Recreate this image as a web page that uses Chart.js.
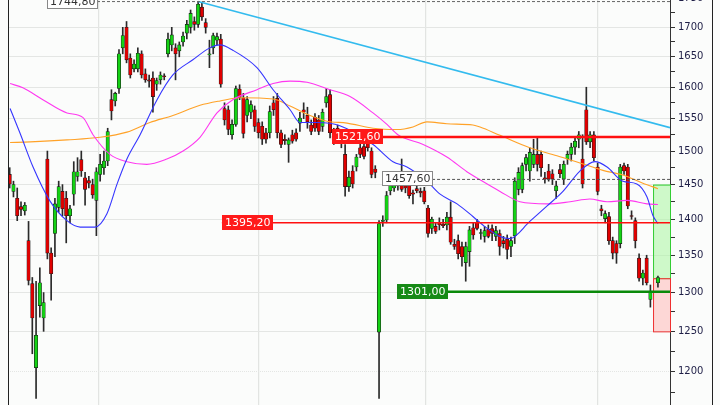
<!DOCTYPE html>
<html>
<head>
<meta charset="utf-8">
<script src="https://cdn.jsdelivr.net/npm/chart.js@4.4.1/dist/chart.umd.min.js"></script>
<style>
html, body { margin: 0; padding: 0; width: 720px; height: 405px; overflow: hidden; background: #fbfcfb; }
#wrap { position: absolute; left: 0; top: -10px; width: 720px; height: 415px; }
</style>
</head>
<body>
<div id="wrap"><canvas id="graph"></canvas></div>
<script>
// daily candles (null = empty session slot)
var opens = [
  1465,1440,1430,1418,1412,1370,1312,1205,1283,1267,
  1488,1353,1380,1417,1440,1430,1405,1436,1462,1487,
  1460,1456,1450,1427,1465,1475,1485,1580,1578,1598,
  1665,1700,1648,1630,1630,1655,1622,1612,1615,1605,
  1612,1618,1655,1670,1665,1660,1675,1690,1700,1710,
  1705,1735,1708,1653,1665,1678,1680,1566,1564,1525,
  1541,1597,1583,1555,1560,1564,1544,1538,1528,1528,
  1575,1582,1528,1518,1510,1525,1528,1543,1564,1555,
  1540,1552,1548,1538,1575,1588,1528,1535,1512,1495,
  1447,1470,1476,1505,1507,1522,1500,1473,1249,1397,
  1399,1441,1445,1450,1450,1448,1450,1438,1444,1440,
  1441,1416,1387,1390,1395,1393,1392,1403,1365,1370,
  1362,1340,1355,1388,1395,1380,1376,1386,1387,1376,
  1380,1370,1372,1362,1377,1443,1443,1480,1470,1480,
  1495,1495,1460,1470,1466,1441,1472,1458,1488,1495,
  1506,1518,1488,1564,1514,1525,1476,1415,1401,1404,
  1370,1366,1366,1478,1476,1405,1398,1346,1319,1346,
  1291,null,1313];
var highs = [
  1475,1455,1445,1425,1424,1397,1320,1315,1333,1300,
  1500,1360,1430,1455,1450,1440,1420,1484,1490,1500,
  1468,1462,1458,1475,1495,1500,1535,1596,1592,1662,
  1700,1710,1655,1645,1665,1660,1630,1620,1625,1615,
  1625,1622,1690,1700,1672,1675,1692,1712,1730,1718,
  1744.8,1742,1715,1678,1690,1690,1688,1575,1570,1548,
  1602,1604,1590,1585,1578,1570,1550,1545,1535,1570,
  1585,1590,1532,1525,1520,1532,1534,1560,1575,1568,
  1548,1558,1555,1565,1598,1596,1535,1540,1522,1510,
  1470,1478,1495,1512,1515,1530,1505,1478,1398,1405,
  1440,1452,1456,1458,1488,1460,1456,1442,1450,1445,
  1446,1420,1403,1395,1402,1400,1410,1425,1372,1378,
  1368,1368,1390,1395,1400,1386,1390,1392,1392,1390,
  1385,1376,1378,1375,1460,1475,1482,1495,1505,1518,
  1520,1500,1468,1480,1472,1455,1480,1485,1500,1512,
  1520,1530,1525,1600,1530,1530,1482,1420,1412,1410,
  1375,1370,1480,1482,1480,1412,1402,1352,1330,1350,
  1310,null,1322];
var lows = [
  1445,1432,1398,1405,1406,1310,1222,1168,1268,1250,
  1345,1290,1348,1410,1405,1367,1395,1420,1455,1462,
  1420,1445,1430,1377,1455,1465,1478,1548,1570,1590,
  1655,1640,1615,1625,1625,1615,1608,1600,1560,1595,
  1605,1612,1650,1660,1612,1650,1668,1680,1690,1695,
  1700,1712,1690,1632,1655,1670,1600,1540,1525,1518,
  1538,1580,1520,1545,1550,1530,1520,1510,1512,1520,
  1555,1520,1505,1510,1483,1512,1515,1530,1550,1535,
  1525,1530,1525,1530,1568,1520,1510,1525,1505,1433,
  1440,1445,1470,1490,1488,1500,1460,1460,1168,1390,
  1395,1435,1440,1442,1440,1438,1430,1422,1438,1432,
  1422,1375,1380,1380,1385,1388,1385,1365,1358,1345,
  1335,1315,1335,1372,1385,1372,1368,1374,1370,1370,
  1350,1360,1345,1348,1366,1435,1438,1470,1455,1475,
  1470,1462,1452,1455,1450,1430,1460,1450,1480,1485,
  1495,1505,1445,1510,1505,1485,1435,1405,1395,1365,
  1345,1339,1360,1465,1415,1400,1360,1315,1310,1310,
  1281,null,1307];
var closes = [
  1451,1450,1405,1414,1420,1316,1267,1245,1313,1287,
  1353,1325,1422,1447,1415,1405,1415,1469,1469,1470,
  1443,1452,1435,1469,1480,1485,1530,1562,1590,1655,
  1686,1645,1620,1638,1656,1620,1612,1610,1585,1611,
  1620,1617,1680,1687,1655,1670,1685,1705,1724,1705,
  1740,1718,1700,1655,1686,1684,1605,1548,1533,1541,
  1598,1583,1527,1580,1572,1538,1528,1518,1518,1561,
  1564,1528,1510,1516,1517,1515,1518,1551,1560,1545,
  1530,1535,1530,1560,1585,1528,1517,1530,1517,1447,
  1461,1451,1491,1495,1492,1505,1465,1468,1394,1398,
  1434,1450,1452,1448,1443,1445,1434,1436,1441,1438,
  1425,1380,1400,1383,1392,1391,1403,1368,1362,1352,
  1348,1362,1385,1378,1387,1380,1384,1376,1380,1384,
  1362,1366,1358,1370,1455,1468,1478,1490,1498,1495,
  1480,1475,1458,1458,1458,1448,1466,1480,1495,1506,
  1515,1525,1451,1514,1525,1490,1440,1412,1408,1370,
  1353,1353,1476,1470,1419,1404,1370,1319,1326,1313,
  1302,null,1320];

// moving averages, [session, value] read at sample points
var blueMa = [[0.1,1566],[2.7,1528],[6.2,1476],[10.7,1426],[15.2,1398],[18.7,1389],[22.6,1389],
  [25.8,1408],[28.5,1451],[31.1,1488],[34.6,1525],[39.1,1580],[43.3,1620],[48.6,1645],[53.1,1665],
  [55.8,1670],[59.2,1661],[65.6,1632],[69.9,1596],[74.4,1564],[77,1544],[81.5,1544],[87.6,1539],
  [96.4,1510],[101.7,1484],[105.4,1476],[110.7,1455],[114.2,1436],[118.7,1422],[122.9,1404],
  [126,1390],[130.1,1376],[132.7,1373],[138,1397],[142.6,1419],[146.8,1440],[151.3,1470],
  [155.3,1484],[158.5,1476],[162.7,1455],[166.4,1451],[169.1,1432],[170.7,1405],[172,1394]];
var magentaMa = [[0.1,1606],[3.5,1599],[8.8,1580],[15.2,1559],[19.4,1552],[22.1,1525],[26.6,1495],
  [31.1,1484],[36.4,1480],[41.7,1488],[46,1500],[50.5,1521],[55,1559],[59.2,1580],[65.6,1596],
  [69.9,1606],[74.4,1610],[78.9,1608],[85,1596],[90.3,1585],[96.4,1559],[100.1,1541],[103,1525],
  [109.7,1510],[116,1491],[121.3,1469],[124.8,1457],[130.1,1440],[135.4,1425],[142.6,1422],
  [148.7,1425],[153.9,1429],[158.5,1425],[163.8,1427],[169.1,1422],[172,1421]];
var orangeMa = [[0.1,1513],[5.4,1514],[15.2,1517],[24,1521],[31.1,1529],[37.2,1544],[43.3,1555],
  [50.5,1571],[55.8,1578],[61.1,1583],[69.9,1581],[74.4,1570],[78.9,1557],[84.2,1546],[89.5,1543],
  [96.4,1535],[102.8,1533],[107,1537],[110.7,1545],[116,1542],[122.9,1540],[124.8,1537],
  [130.1,1524],[138,1505],[145.2,1493],[151.3,1482],[157.4,1471],[162.7,1464],[168,1452],[172,1444]];

// resistance trend line from the top
var trendDays = [50, 175.2];
var trendValues = [1744.8, 1536];

// horizontal levels
var levelValues = [1744.8, 1521.6, 1457.6, 1395.2, 1301.0];
var levelTexts  = ["1744,80", "1521,60", "1457,60", "1395,20", "1301,00"];
var levelFrom   = [9.9, 85.5, 98.8, 56.3, 102.8];

// target / stop zones at the right edge
var zoneFrom = 170.7;
var zoneUp   = [1450, 1319];
var zoneDown = [1319, 1250];

// axis
var priceTicks = [1200, 1250, 1300, 1350, 1400, 1450, 1500, 1550, 1600, 1650, 1700, 1750];
var minorTicks = [1175, 1225, 1275, 1325, 1375, 1425, 1475, 1525, 1575, 1625, 1675, 1725];
var gridDays = [23.5, 66, 110.4, 155.9];
var xFirst = -0.45, xLast = 175.2;

var levelStyle = [
  {color: "#666", width: 1, dash: [3, 2], fill: "#ffffff", edge: "#888", text: "#333"},
  {color: "#ff1010", width: 2.5, dash: [], fill: "#ff1a1a", edge: null, text: "#fff"},
  {color: "#555", width: 1, dash: [3, 2], fill: "#ffffff", edge: "#888", text: "#333"},
  {color: "#ff1010", width: 1.6, dash: [], fill: "#ff1a1a", edge: null, text: "#fff"},
  {color: "#0a8a0a", width: 2.5, dash: [], fill: "#168a16", edge: null, text: "#fff"}
];

Chart.defaults.font.family = "'DejaVu Sans', Verdana, sans-serif";

var wicks = [], bodies = [], bodyColors = [];
for (let i = 0; i < opens.length; i++) {
  if (opens[i] == null) continue;
  wicks.push({x: i, y: [lows[i], highs[i]]});
  bodies.push({x: i, y: [opens[i], closes[i]]});
  bodyColors.push(closes[i] >= opens[i] ? "#14d214" : "#e00000");
}

function toPoints(list) {
  return list.map(p => ({x: p[0], y: p[1]}));
}

var datasets = [];
levelValues.forEach((v, k) => {
  datasets.push({
    type: "line", order: 0,
    data: [{x: levelFrom[k], y: v}, {x: xLast, y: v}],
    borderColor: levelStyle[k].color, borderWidth: levelStyle[k].width,
    borderDash: levelStyle[k].dash, pointRadius: 0
  });
});
datasets.push({
  type: "line", order: 0,
  data: trendDays.map((d, k) => ({x: d, y: trendValues[k]})),
  borderColor: "#33bbee", borderWidth: 1.6, pointRadius: 0
});
[[blueMa, "#3535ff"], [magentaMa, "#ff38f0"], [orangeMa, "#ffa228"]].forEach(m => {
  datasets.push({
    type: "line", order: 1, data: toPoints(m[0]),
    borderColor: m[1], borderWidth: 1.1, pointRadius: 0,
    cubicInterpolationMode: "monotone"
  });
});
datasets.push({
  type: "bar", order: 2, data: bodies, grouped: false,
  backgroundColor: bodyColors, borderColor: "#1a1a1a", borderWidth: 0.6,
  borderSkipped: false, barThickness: 3.4, minBarLength: 1
});
datasets.push({
  type: "bar", order: 3, data: wicks, grouped: false,
  backgroundColor: "#2a2a2a", borderWidth: 0, barThickness: 1
});

var decor = {
  id: "decor",
  beforeDraw(chart) {
    const c = chart.ctx;
    c.save();
    c.fillStyle = "#fbfcfb";
    c.fillRect(0, 0, chart.width, chart.height);
    c.restore();
  },
  beforeDatasetsDraw(chart) {
    const c = chart.ctx, x = chart.scales.x, y = chart.scales.y;
    const x0 = x.getPixelForValue(zoneFrom), x1 = chart.chartArea.right;
    c.save();
    let t = y.getPixelForValue(zoneUp[0]), b = y.getPixelForValue(zoneUp[1]);
    c.fillStyle = "rgba(170,245,160,0.55)";
    c.fillRect(x0, t, x1 - x0, b - t);
    c.strokeStyle = "#33cc33"; c.lineWidth = 1;
    c.strokeRect(x0 + 0.5, t + 0.5, x1 - x0, b - t);
    t = y.getPixelForValue(zoneDown[0]); b = y.getPixelForValue(zoneDown[1]);
    c.fillStyle = "rgba(255,190,190,0.6)";
    c.fillRect(x0, t, x1 - x0, b - t);
    c.strokeStyle = "#ee3030";
    c.strokeRect(x0 + 0.5, t + 0.5, x1 - x0, b - t);
    c.restore();
  },
  afterDatasetsDraw(chart) {
    const c = chart.ctx, x = chart.scales.x, y = chart.scales.y;
    c.save();
    c.font = "11px 'DejaVu Sans'";
    c.textBaseline = "middle";
    levelValues.forEach((v, k) => {
      const s = levelStyle[k];
      const px = Math.round(x.getPixelForValue(levelFrom[k]));
      const py = Math.round(y.getPixelForValue(v));
      const w = Math.round(c.measureText(levelTexts[k]).width) + 6, h = 15;
      c.fillStyle = s.fill;
      c.fillRect(px, py - 8, w, h);
      if (s.edge) {
        c.strokeStyle = s.edge; c.lineWidth = 1;
        c.strokeRect(px + 0.5, py - 7.5, w - 1, h - 1);
      }
      c.fillStyle = s.text;
      c.fillText(levelTexts[k], px + 3, py);
    });
    c.restore();
  },
  afterDraw(chart) {
    const c = chart.ctx, a = chart.chartArea;
    c.save();
    c.strokeStyle = "#222"; c.lineWidth = 1;
    c.beginPath();
    c.moveTo(a.left + 0.5, 0); c.lineTo(a.left + 0.5, chart.height);
    c.moveTo(712.5, 0); c.lineTo(712.5, chart.height);
    c.stroke();
    c.restore();
  }
};

new Chart(document.getElementById("graph"), {
  type: "bar",
  data: {datasets: datasets},
  plugins: [decor],
  options: {
    responsive: true,
    maintainAspectRatio: false,
    animation: false,
    events: [],
    layout: {padding: {left: 8, right: 8, top: 0, bottom: 0}},
    plugins: {legend: {display: false}, tooltip: {enabled: false}},
    scales: {
      x: {
        type: "linear", min: xFirst, max: xLast, offset: false,
        grid: {color: "#e2e4e2", lineWidth: 1.2, drawTicks: false, offset: false},
        border: {display: false},
        ticks: {display: false},
        afterBuildTicks: s => { s.ticks = gridDays.map(v => ({value: v})); }
      },
      y: {
        type: "logarithmic", position: "right",
        min: 1160.27, max: 1765.35, bounds: "data",
        afterBuildTicks: s => {
          s.ticks = priceTicks.concat(minorTicks).sort((a, b) => a - b).map(v => ({value: v}));
        },
        afterFit: s => { s.width = 42; s.paddingTop = 0; s.paddingBottom = 0; },
        grid: {
          color: ctx => (ctx.tick && priceTicks.indexOf(ctx.tick.value) >= 0) ? "#e4e6e4" : "rgba(0,0,0,0)",
          tickColor: "#333", tickLength: 5
        },
        border: {
          color: "#333", width: 1,
          dash: ctx => (ctx.tick && ctx.tick.value === 1200) ? [1, 1] : []
        },
        ticks: {
          autoSkip: false, padding: 3, color: "#1e1e46", font: {size: 10},
          callback: v => priceTicks.indexOf(v) >= 0 ? String(v) : ""
        }
      }
    }
  }
});
</script>
</body>
</html>
